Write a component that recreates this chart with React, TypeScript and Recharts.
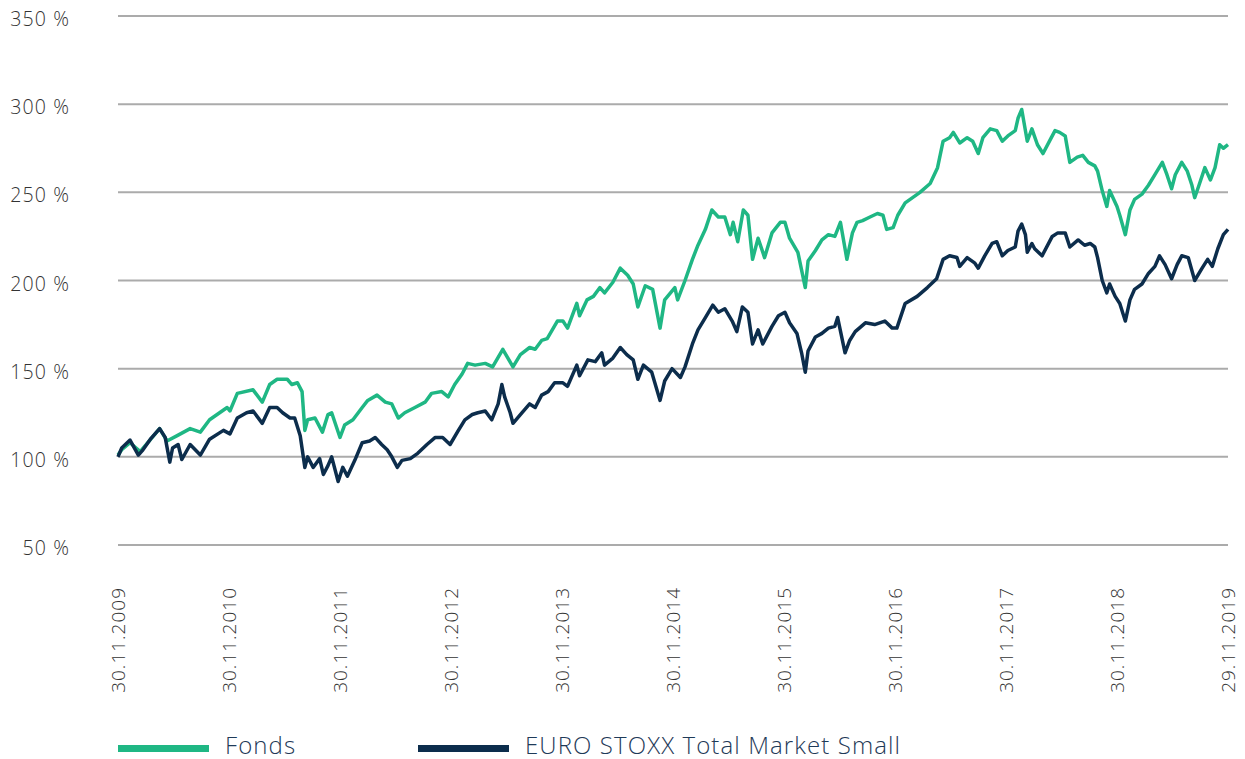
// Wertentwicklung Fonds vs. EURO STOXX Total Market Small (30.11.2009 – 29.11.2019)
import { CartesianGrid, Line, LineChart, XAxis, YAxis } from "recharts";

const GREEN = "#1fb784";
const NAVY = "#0c2d4c";
const GRID = "#ababab";
const TICK = "#333333";
const FONT = "'Open Sans', 'DejaVu Sans', sans-serif";

// x = Monate seit 30.11.2009, y = Wertentwicklung in %
const FONDS: [number, number][] = [
  [0, 101], [0.4, 104], [1.3, 108], [2.4, 103], [4.5, 116], [5.3, 109], [6.4, 112],
  [7.8, 116], [8.9, 114], [9.9, 121], [11.8, 128], [12.1, 126], [12.9, 136], [14.6, 138],
  [15.6, 131], [16.4, 141], [17.2, 144], [18.3, 144], [18.8, 141], [19.4, 142], [19.9, 137],
  [20.2, 115], [20.5, 121], [21.3, 122], [22.1, 114], [22.7, 124], [23.1, 125], [24.0, 111],
  [24.5, 118], [25.4, 121], [26.4, 128], [27.0, 132], [28.0, 135], [28.9, 131], [29.6, 130],
  [30.3, 122], [31.0, 125], [32.1, 128], [33.2, 131], [33.9, 136], [35.0, 137], [35.7, 134],
  [36.4, 141], [37.2, 147], [37.8, 153], [38.6, 152], [39.7, 153], [40.5, 151], [41.6, 161],
  [42.7, 151], [43.5, 158], [44.5, 162], [45.1, 161], [45.8, 166], [46.4, 167], [47.5, 177],
  [48.1, 177], [48.6, 173], [49.6, 187], [49.9, 180], [50.7, 189], [51.4, 191], [52.1, 196],
  [52.6, 193], [53.5, 199], [54.3, 207], [55.1, 203], [55.7, 198], [56.2, 185], [57.0, 197],
  [57.8, 195], [58.6, 173], [59.1, 189], [60.2, 196], [60.5, 189], [61.3, 200], [62.1, 212],
  [62.7, 220], [63.5, 229], [64.2, 240], [64.9, 236], [65.6, 236], [66.2, 226], [66.5, 233],
  [67.0, 222], [67.6, 240], [68.1, 237], [68.6, 212], [69.2, 224], [69.9, 213], [70.7, 227],
  [71.6, 233], [72.1, 233], [72.6, 224], [73.5, 216], [74.3, 196], [74.6, 211], [75.4, 217],
  [76.1, 223], [76.8, 226], [77.5, 225], [78.1, 233], [78.8, 212], [79.4, 227], [79.9, 233],
  [80.5, 234], [81.3, 236], [82.1, 238], [82.7, 237], [83.1, 229], [83.8, 230], [84.3, 237],
  [85.1, 244], [85.9, 247], [86.7, 250], [87.8, 255], [88.6, 264], [89.2, 279], [89.9, 281],
  [90.3, 284], [91.0, 278], [91.8, 281], [92.4, 279], [93.0, 272], [93.5, 281], [94.3, 286],
  [95.0, 285], [95.6, 279], [96.2, 282], [97.0, 285], [97.3, 292], [97.7, 297], [98.3, 279],
  [98.8, 286], [99.4, 277], [100.0, 272], [100.8, 280], [101.3, 285], [101.8, 284],
  [102.4, 282], [102.9, 267], [103.7, 270], [104.3, 271], [104.9, 267], [105.6, 265],
  [105.9, 262], [106.4, 251], [106.9, 242], [107.2, 251], [108.0, 242], [108.3, 237],
  [108.9, 226], [109.4, 240], [109.9, 246], [110.7, 249], [111.4, 254], [112.1, 260],
  [112.9, 267], [113.4, 260], [113.9, 252], [114.3, 260], [115.0, 267], [115.6, 262],
  [116.1, 254], [116.4, 247], [116.8, 253], [117.5, 264], [118.1, 257], [118.6, 264],
  [119.1, 277], [119.5, 275], [120, 277],
];

const INDEX: [number, number][] = [
  [0, 100], [0.4, 105], [1.3, 109.5], [2.2, 101], [2.7, 104], [3.5, 110], [4.5, 116],
  [5.1, 111], [5.6, 97], [5.9, 105], [6.5, 107], [6.9, 98.5], [7.8, 107], [8.9, 101],
  [9.9, 110], [11.4, 115], [12.1, 113], [12.9, 122], [13.9, 125], [14.6, 126], [15.6, 119],
  [16.4, 128], [17.2, 128], [17.8, 125], [18.6, 122], [19.1, 122], [19.7, 112], [20.2, 94],
  [20.5, 100], [21.1, 94], [21.8, 99], [22.2, 90], [22.7, 95], [23.1, 100], [23.8, 86],
  [24.3, 94], [24.8, 89], [25.6, 98], [26.4, 108], [27.2, 109], [27.8, 111], [28.5, 107],
  [29.1, 104], [29.6, 100], [30.2, 94], [30.7, 98], [31.6, 99], [32.4, 102], [33.4, 107],
  [34.3, 111], [35.1, 111], [35.9, 107], [36.8, 115], [37.5, 121], [38.3, 124], [38.9, 125],
  [39.7, 126], [40.4, 121], [41.1, 130], [41.5, 141], [41.8, 134], [42.4, 125], [42.7, 119],
  [43.5, 124], [44.5, 130], [45.1, 128], [45.8, 135], [46.5, 137], [47.2, 142], [48.1, 142],
  [48.6, 140], [49.6, 152], [49.9, 146], [50.8, 155], [51.6, 154], [52.3, 159], [52.6, 152],
  [53.5, 156], [54.3, 162], [55.0, 158], [55.7, 155], [56.2, 144], [56.8, 152], [57.7, 148],
  [58.6, 132], [59.1, 143], [59.9, 150], [60.8, 145], [61.3, 151], [62.1, 164], [62.7, 172],
  [63.5, 179], [64.3, 186], [64.9, 182], [65.6, 184], [66.4, 177], [66.9, 171], [67.5, 185],
  [68.1, 182], [68.6, 164], [69.2, 172], [69.7, 164], [70.7, 174], [71.4, 180], [72.1, 182],
  [72.6, 176], [73.4, 170], [73.9, 159], [74.3, 148], [74.6, 160], [75.4, 168], [76.1, 170],
  [76.8, 173], [77.5, 174], [77.8, 179], [78.6, 159], [79.1, 166], [79.7, 171], [80.8, 176],
  [81.8, 175], [82.9, 177], [83.7, 173], [84.2, 173], [85.1, 187], [86.4, 191], [87.5, 196],
  [88.5, 201], [89.2, 212], [89.9, 214], [90.7, 213], [91.0, 208], [91.8, 213], [92.6, 210],
  [93.0, 207], [93.7, 214], [94.5, 221], [95.0, 222], [95.6, 214], [96.2, 217], [97.0, 219],
  [97.3, 228], [97.7, 232], [98.1, 226], [98.3, 216], [98.8, 221], [99.1, 218], [99.9, 214],
  [101.0, 225], [101.6, 227], [102.4, 227], [102.9, 219], [103.8, 223], [104.5, 220],
  [105.1, 221], [105.6, 219], [105.9, 213], [106.4, 200], [106.9, 193], [107.2, 198],
  [107.8, 191], [108.3, 187], [108.9, 177], [109.4, 189], [109.9, 195], [110.7, 198],
  [111.4, 204], [112.1, 208], [112.6, 214], [113.2, 209], [113.9, 201], [114.5, 209],
  [115.0, 214], [115.7, 213], [116.4, 200], [117.2, 207], [117.8, 212], [118.3, 208],
  [118.9, 218], [119.5, 226], [120, 229],
];

const X_TICKS = [0, 12, 24, 36, 48, 60, 72, 84, 96, 108, 120];
const X_LABELS = [
  "30.11.2009", "30.11.2010", "30.11.2011", "30.11.2012", "30.11.2013", "30.11.2014",
  "30.11.2015", "30.11.2016", "30.11.2017", "30.11.2018", "29.11.2019",
];
const Y_TICKS = [50, 100, 150, 200, 250, 300, 350];

const SERIES = [
  { name: "Fonds", color: GREEN, points: FONDS },
  { name: "EURO STOXX Total Market Small", color: NAVY, points: INDEX },
];

function XTick({ x, y, index }: any) {
  return (
    <text
      transform={`translate(${x},${y}) rotate(-90)`}
      textAnchor="end"
      dy="0.36em"
      fill={TICK}
      fontSize={19}
      fontWeight={300}
      letterSpacing={1}
      fontFamily={FONT}
    >
      {X_LABELS[index]}
    </text>
  );
}

function YTick({ x, y, payload }: any) {
  return (
    <text
      x={x}
      y={y + 3}
      textAnchor="end"
      dy="0.36em"
      fill={TICK}
      fontSize={19.5}
      fontWeight={300}
      letterSpacing={1.1}
      fontFamily={FONT}
    >
      {`${payload.value} %`}
    </text>
  );
}

export default function App() {
  return (
    <div style={{ position: "absolute", left: 0, top: 0, width: 1245, height: 759, fontFamily: FONT }}>
      <LineChart width={1245} height={759} margin={{ top: 16, right: 17, bottom: 54, left: 0 }}>
        <CartesianGrid stroke={GRID} strokeWidth={2} vertical={false} />
        <XAxis
          type="number"
          dataKey="m"
          domain={[0, 120]}
          ticks={X_TICKS}
          interval={0}
          height={160}
          axisLine={false}
          tickLine={false}
          tickSize={0}
          tickMargin={42}
          tick={<XTick />}
        />
        <YAxis
          type="number"
          domain={[50, 350]}
          ticks={Y_TICKS}
          interval={0}
          width={118}
          axisLine={false}
          tickLine={false}
          tickSize={0}
          tickMargin={48}
          tick={<YTick />}
        />
        {SERIES.map((s) => (
          <Line
            key={s.name}
            data={s.points.map(([m, v]) => ({ m, v }))}
            dataKey="v"
            name={s.name}
            type="linear"
            stroke={s.color}
            strokeWidth={3.5}
            strokeLinejoin="round"
            dot={false}
            activeDot={false}
            isAnimationActive={false}
          />
        ))}
      </LineChart>
      <div style={{ position: "absolute", left: 118, top: 733, height: 24, display: "flex" }}>
        {SERIES.map((s, i) => (
          <div key={s.name} style={{ display: "flex", alignItems: "center", height: 24, width: i === 0 ? 300 : undefined }}>
            <div style={{ width: 91, height: 7, background: s.color, marginTop: 6, marginRight: 16 }} />
            <span style={{ fontSize: 24, lineHeight: "24px", fontWeight: 300, color: "#1f3a58", letterSpacing: 1.1 }}>
              {s.name}
            </span>
          </div>
        ))}
      </div>
    </div>
  );
}
